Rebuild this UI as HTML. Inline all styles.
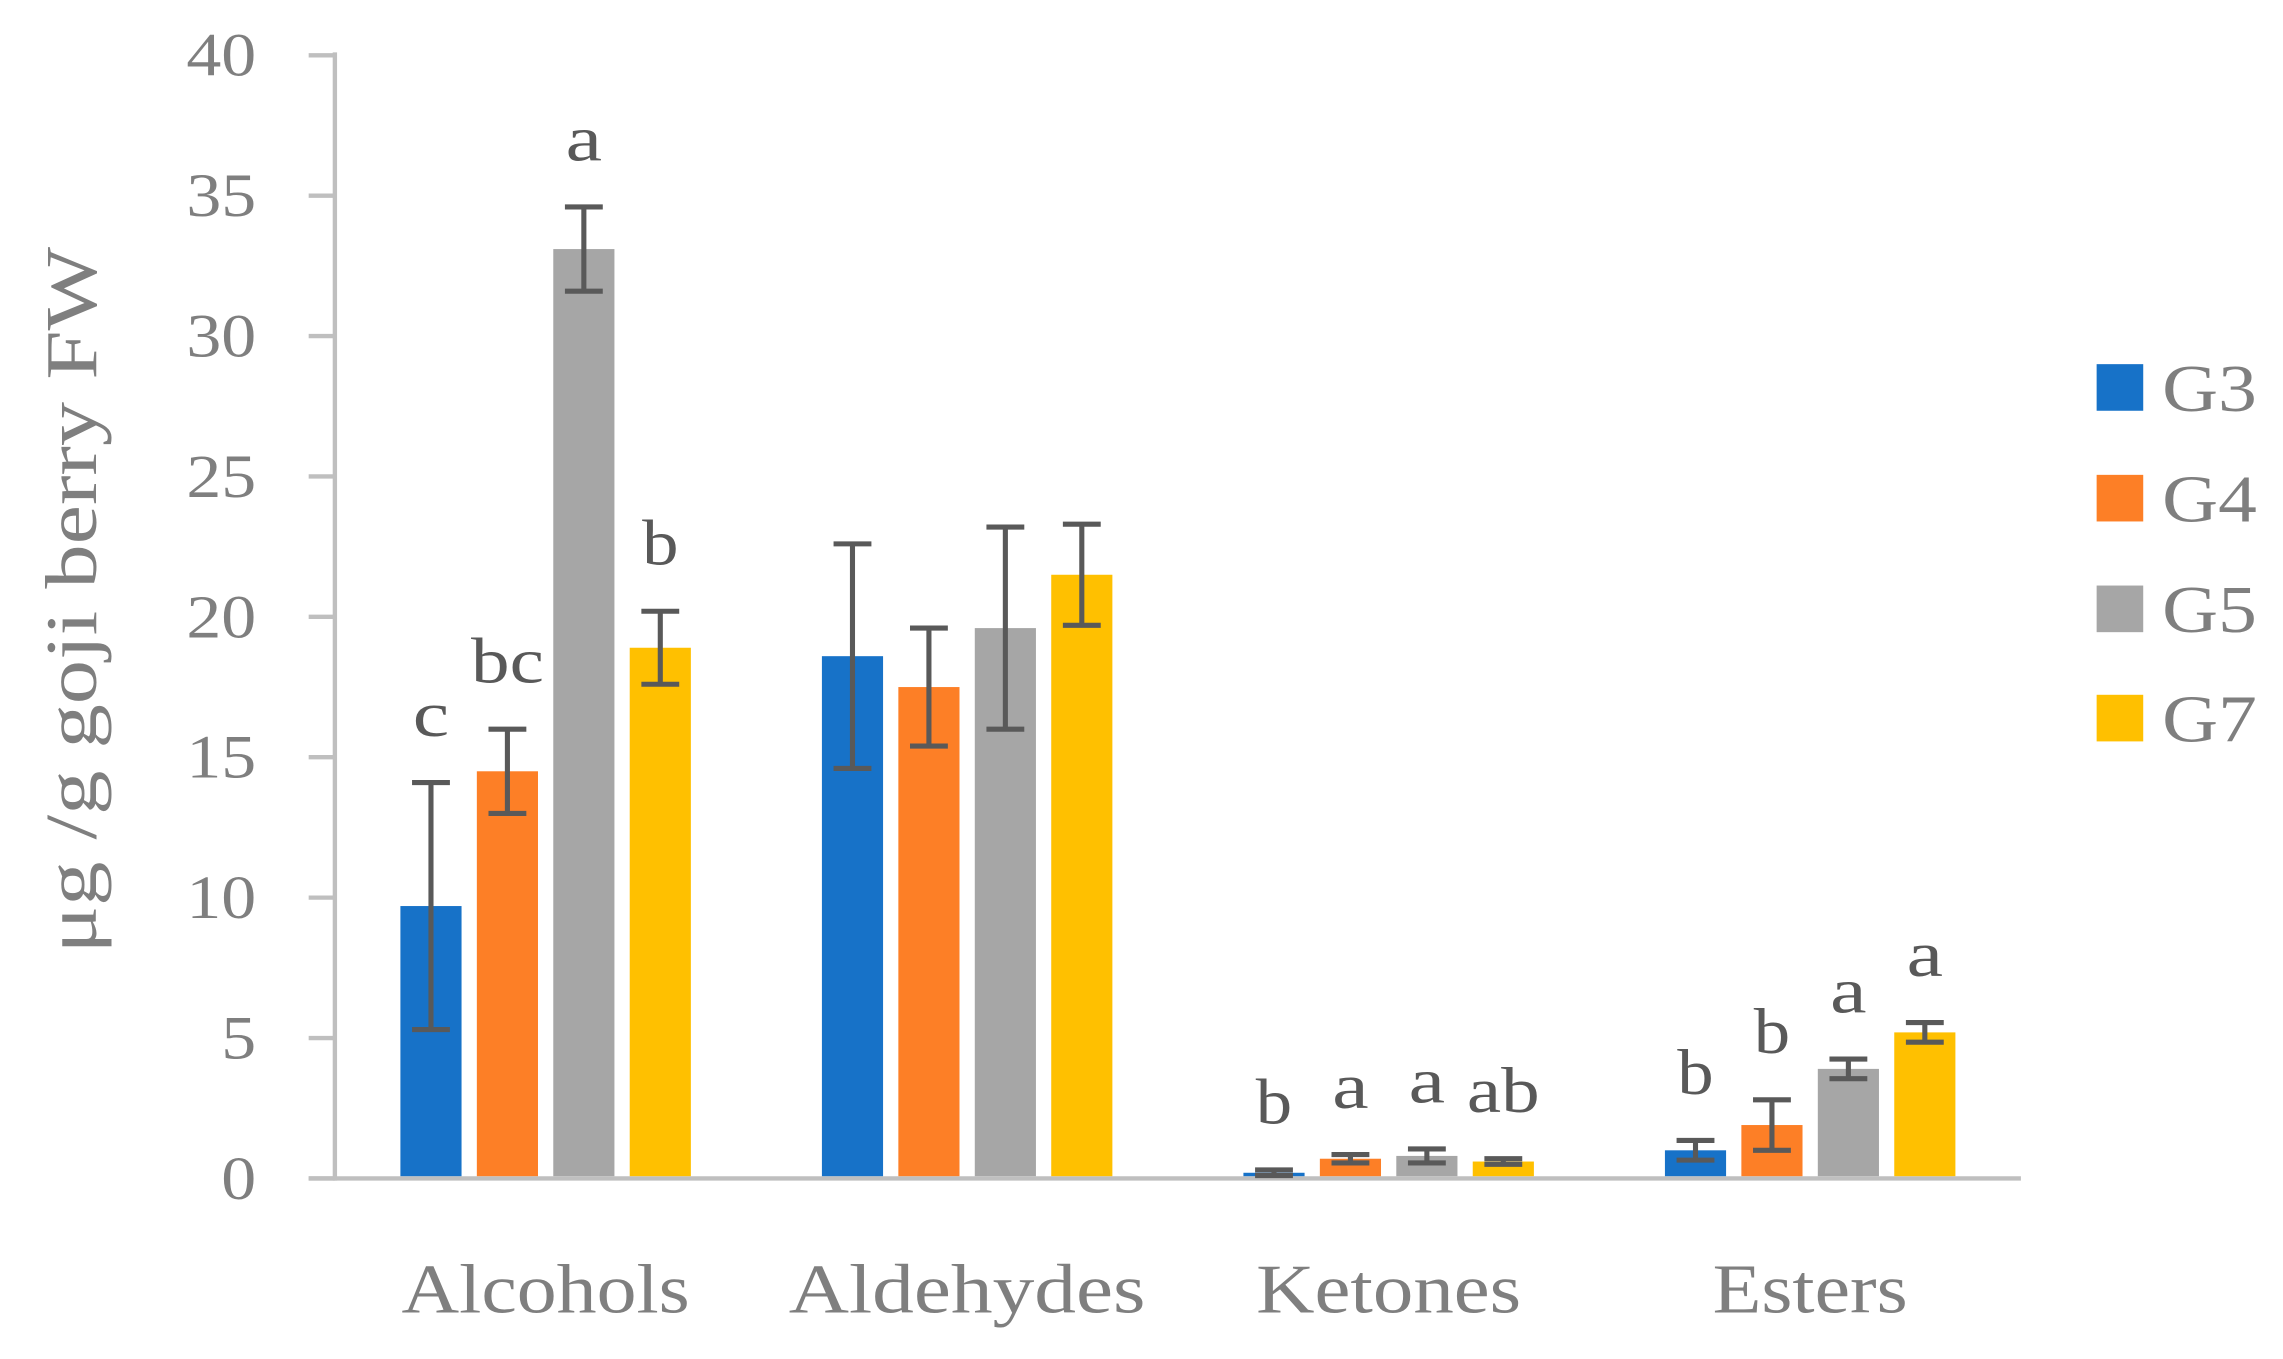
<!DOCTYPE html>
<html><head><meta charset="utf-8"><style>
html,body{margin:0;padding:0;background:#fff;}
svg{display:block;}
text{font-family:"Liberation Serif",serif;fill:#7f7f7f;}
</style></head><body>
<svg id="chart" width="2283" height="1359" viewBox="0 0 1568 933" preserveAspectRatio="none" xmlns="http://www.w3.org/2000/svg">
<g id="axes"></g>
<g id="bars"></g>
<g id="legend"></g>
<text transform="translate(66,412) rotate(-90)" text-anchor="middle" font-size="50" textLength="485" lengthAdjust="spacingAndGlyphs">μg /g goji berry FW</text>
</svg>
<script>
const categories = ["Alcohols","Aldehydes","Ketones","Esters"];
const seriesNames = ["G3","G4","G5","G7"];
const seriesColors = ["#1772c8","#fd7f26","#a6a6a6","#ffc000"];
const g3 = [9.7, 18.6, 0.2, 1.0];
const g4 = [14.5, 17.5, 0.7, 1.9];
const g5 = [33.1, 19.6, 0.8, 3.9];
const g7 = [18.9, 21.5, 0.6, 5.2];
const g3Err = [4.4, 4.0, 0.1, 0.35];
const g4Err = [1.5, 2.1, 0.15, 0.9];
const g5Err = [1.5, 3.6, 0.25, 0.35];
const g7Err = [1.3, 1.8, 0.1, 0.35];
const g3Letters = ["c","","b","b"];
const g4Letters = ["bc","","a","b"];
const g5Letters = ["a","","a","a"];
const g7Letters = ["b","","ab","a"];
const yTicks = [0,5,10,15,20,25,30,35,40];

const NS="http://www.w3.org/2000/svg";
const x0=230, x1=1388, yBase=809, yTop=38, yMax=40;
const yS=v=>yBase-(v/yMax)*(yBase-yTop);
const catW=(x1-x0)/categories.length;
const barW=42, barStep=52.5;
const catLabelW={Alcohols:198,Aldehydes:245,Ketones:182,Esters:134};
function mk(tag,attrs,parent){const e=document.createElementNS(NS,tag);for(const k in attrs)e.setAttribute(k,attrs[k]);parent.appendChild(e);return e;}
const axes=document.getElementById('axes'), bars=document.getElementById('bars'), legend=document.getElementById('legend');

yTicks.forEach(t=>{
  const tk=mk('line',{x1:212,x2:x0,y1:yS(t),y2:yS(t),stroke:'#bfbfbf','stroke-width':3},axes);
  
  
  const s=String(t);
  const lb=mk('text',{x:176,y:yS(t)+14,'text-anchor':'end','font-size':42,textLength:s.length*24,lengthAdjust:'spacingAndGlyphs'},axes);
  lb.textContent=s;
  
  
});
const ya=mk('line',{x1:x0,x2:x0,y1:yTop-2,y2:yBase+1.5,stroke:'#bfbfbf','stroke-width':3},axes);


const xa=mk('line',{x1:212,x2:x1,y1:yBase,y2:yBase,stroke:'#bfbfbf','stroke-width':3},axes);



categories.forEach((c,i)=>{
  const lb=mk('text',{x:x0+catW*(i+0.5),y:901,'text-anchor':'middle','font-size':48,textLength:catLabelW[c]||c.length*24.6,lengthAdjust:'spacingAndGlyphs'},axes);
  lb.textContent=c;
  
  
});

const series=[g3,g4,g5,g7], errs=[g3Err,g4Err,g5Err,g7Err], letters=[g3Letters,g4Letters,g5Letters,g7Letters];
series.forEach((vals,s)=>{
  vals.forEach((v,i)=>{
    const cx=x0+catW*(i+0.5)+(s-1.5)*barStep;
    const r=mk('rect',{x:cx-barW/2,y:yS(v),width:barW,height:yBase-1.5-yS(v),fill:seriesColors[s]},bars);
    
    
    const e=errs[s][i], hi=yS(v+e), lo=yS(Math.max(0,v-e));
    const eb=mk('path',{d:`M${cx},${hi}V${lo}M${cx-13},${hi}H${cx+13}M${cx-13},${lo}H${cx+13}`,stroke:'#595959','stroke-width':3.5,fill:'none'},bars);
    
    
    const L=letters[s][i];
    if(L){
      const t=mk('text',{x:cx,y:hi-32,'text-anchor':'middle','font-size':44,textLength:L.length*25,lengthAdjust:'spacingAndGlyphs',style:'fill:#595959'},bars);
      t.textContent=L;
      
      
    }
  });
});

const legY=[266,342,418,493];
seriesNames.forEach((n,s)=>{
  const sw=mk('rect',{x:1440,y:legY[s]-16,width:32,height:32,fill:seriesColors[s]},legend);
  
  
  const t=mk('text',{x:1485,y:legY[s]+16,'font-size':46,textLength:65,lengthAdjust:'spacingAndGlyphs'},legend);
  t.textContent=n;
  
  
});
</script>
</body></html>
